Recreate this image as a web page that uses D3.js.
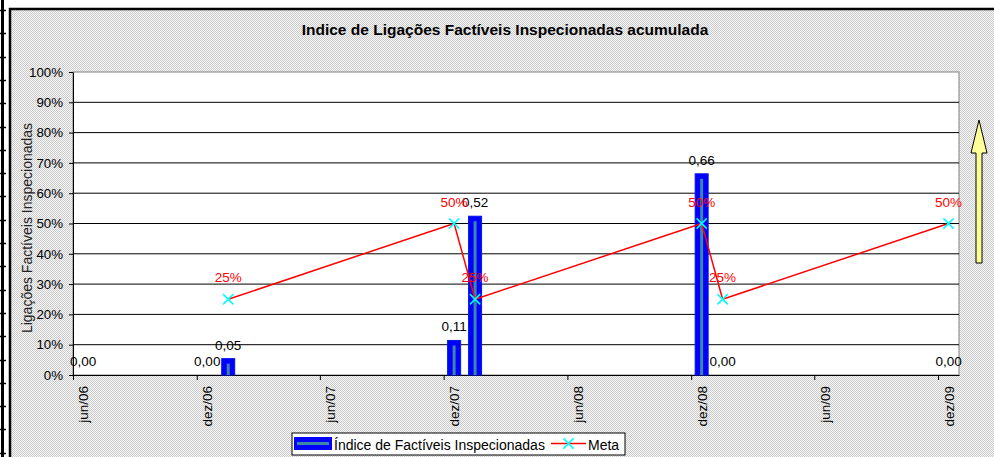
<!DOCTYPE html>
<html>
<head>
<meta charset="utf-8">
<script src="https://cdn.jsdelivr.net/npm/d3@7"></script>
<style>
  body { margin: 0; background: #fff; }
  text { font-family: "Liberation Sans", Arial, sans-serif; }
</style>
</head>
<body>
<script>
// chart data (months)
var months = ["2006-06", "2006-12", "2007-01", "2007-12", "2008-01", "2008-12", "2009-01", "2009-12"];
var indice = [0, 0, 0.054, 0.114, 0.524, 0.664, 0, 0];
var meta = [null, null, 0.25, 0.5, 0.25, 0.5, 0.25, 0.5];
var xTickLabels = ["jun/06", "dez/06", "jun/07", "dez/07", "jun/08", "dez/08", "jun/09", "dez/09"];
var yTicks = [0, 0.1, 0.2, 0.3, 0.4, 0.5, 0.6, 0.7, 0.8, 0.9, 1];

var w = 994, h = 457;
var plot = { left: 73, top: 72, right: 959, bottom: 375 };

var parseMonth = d3.timeParse("%Y-%m");

var svg = d3.select("body")
    .append("svg")
    .attr("width", w)
    .attr("height", h);

// dotted grey background pattern
var defs = svg.append("defs");
var pat = defs.append("pattern")
    .attr("id", "dots")
    .attr("width", 2)
    .attr("height", 2)
    .attr("patternUnits", "userSpaceOnUse");
pat.append("rect").attr("width", 2).attr("height", 2).attr("fill", "#f8f8f8");
pat.append("rect").attr("width", 1).attr("height", 1).attr("fill", "#cacaca");
pat.append("rect").attr("x", 1).attr("y", 1).attr("width", 1).attr("height", 1).attr("fill", "#cacaca");

// left edge (spreadsheet cells behind the chart)
svg.append("rect")
    .attr("x", 1).attr("y", 0)
    .attr("width", 3).attr("height", h)
    .attr("fill", "#000");
svg.selectAll(".cellmark")
    .data(d3.range(10, h, 23.3))
    .enter()
    .append("line")
    .attr("x1", 0).attr("x2", 6)
    .attr("y1", function(d){ return Math.round(d) + 0.5; })
    .attr("y2", function(d){ return Math.round(d) + 0.5; })
    .attr("stroke", "#000")
    .attr("stroke-width", 1.5);

// chart area
svg.append("rect")
    .attr("x", 10).attr("y", 9)
    .attr("width", w).attr("height", h)
    .attr("fill", "url(#dots)")
    .attr("stroke", "#000")
    .attr("stroke-width", 2.5);

// title
svg.append("text")
    .attr("x", 505).attr("y", 35)
    .attr("text-anchor", "middle")
    .style("font-size", "15.5px")
    .style("font-weight", "bold")
    .text("Indice de Ligações Factíveis Inspecionadas acumulada");

// scales
var x = d3.scaleTime()
    .domain([parseMonth("2006-06"), parseMonth("2010-01")])
    .range([plot.left, plot.right]);

var y = d3.scaleLinear()
    .domain([0, 1])
    .range([plot.bottom, plot.top]);

// centre of a month slot
function mid(d){
    return (x(d) + x(d3.timeMonth.offset(d, 1))) / 2;
}
function slot(d){
    return x(d3.timeMonth.offset(d, 1)) - x(d);
}

// plot area
svg.append("rect")
    .attr("x", plot.left).attr("y", plot.top)
    .attr("width", plot.right - plot.left)
    .attr("height", plot.bottom - plot.top)
    .attr("fill", "#fff")
    .attr("stroke", "#808080")
    .attr("stroke-width", 1);

// gridlines
svg.selectAll(".grid")
    .data(yTicks.slice(1, -1))
    .enter()
    .append("line")
    .attr("class", "grid")
    .attr("x1", plot.left).attr("x2", plot.right)
    .attr("y1", function(d){ return y(d); })
    .attr("y2", function(d){ return y(d); })
    .attr("stroke", "#000")
    .attr("stroke-width", 1);

// y axis
var yAxis = d3.axisLeft(y)
    .tickValues(yTicks)
    .tickSize(4)
    .tickSizeOuter(0)
    .tickPadding(6)
    .tickFormat(d3.format(".0%"));
var gy = svg.append("g")
    .attr("transform", "translate(" + plot.left + ",0)")
    .call(yAxis);
gy.selectAll("text").style("font-size", "13.3px").attr("fill", "#000").attr("font-family", null);
gy.selectAll("line, path").attr("stroke", "#000");

// x axis
var tickDates = xTickLabels.map(function(d, i){
    return d3.timeMonth.offset(parseMonth("2006-06"), i * 6);
});
var xAxis = d3.axisBottom(x)
    .tickValues(tickDates)
    .tickSize(5)
    .tickSizeOuter(0)
    .tickFormat(function(d, i){ return xTickLabels[i]; });
var gx = svg.append("g")
    .attr("transform", "translate(0," + plot.bottom + ")")
    .call(xAxis);
gx.selectAll("line, path").attr("stroke", "#000");
gx.selectAll("text")
    .style("font-size", "13.5px")
    .attr("fill", "#000")
    .attr("font-family", null)
    .attr("text-anchor", "end")
    .attr("y", 0)
    .attr("dy", "0.35em")
    .attr("transform", function(d){
        return "translate(" + (mid(d) - x(d)) + ",11) rotate(-90)";
    });

// y axis title
svg.append("text")
    .attr("transform", "translate(32,228) rotate(-90)")
    .attr("text-anchor", "middle")
    .style("font-size", "14px")
    .attr("fill", "#222")
    .text("Ligações Factíveis Inspecionadas");

var rows = months.map(function(m, i){
    return { date: parseMonth(m), indice: indice[i], meta: meta[i] };
});

// bars
var bars = svg.selectAll(".bar")
    .data(rows)
    .enter()
    .append("g")
    .attr("class", "bar");

bars.filter(function(d){ return d.indice > 0; })
    .append("rect")
    .attr("x", function(d){ return mid(d.date) - slot(d.date) * 0.31; })
    .attr("width", function(d){ return slot(d.date) * 0.62; })
    .attr("y", function(d){ return y(d.indice); })
    .attr("height", function(d){ return y(0) - y(d.indice); })
    .attr("fill", "#0000ff")
    .attr("stroke", "#0018e8")
    .attr("stroke-width", 1);

bars.filter(function(d){ return d.indice > 0; })
    .append("line")
    .attr("x1", function(d){ return mid(d.date); })
    .attr("x2", function(d){ return mid(d.date); })
    .attr("y1", function(d){ return y(d.indice) + 5; })
    .attr("y2", y(0))
    .attr("stroke", "#3c86a6")
    .attr("stroke-width", 3);

var fmt = d3.format(".2f");
bars.append("text")
    .attr("x", function(d){ return mid(d.date); })
    .attr("y", function(d){ return y(d.indice) - 9; })
    .attr("text-anchor", "middle")
    .style("font-size", "13.5px")
    .attr("fill", "#000")
    .text(function(d){ return fmt(d.indice).replace(".", ","); });

// meta line
var metaRows = rows.filter(function(d){ return d.meta !== null; });
var line = d3.line()
    .x(function(d){ return mid(d.date); })
    .y(function(d){ return y(d.meta); });

svg.append("path")
    .datum(metaRows)
    .attr("d", line)
    .attr("fill", "none")
    .attr("stroke", "#ff0000")
    .attr("stroke-width", 1.5);

var cross = d3.symbol().type(d3.symbolX).size(70);
svg.selectAll(".metaMark")
    .data(metaRows)
    .enter()
    .append("path")
    .attr("class", "metaMark")
    .attr("d", cross)
    .attr("transform", function(d){ return "translate(" + mid(d.date) + "," + y(d.meta) + ")"; })
    .attr("fill", "none")
    .attr("stroke", "#00ffff")
    .attr("stroke-width", 1.5);

svg.selectAll(".metaLabel")
    .data(metaRows)
    .enter()
    .append("text")
    .attr("class", "metaLabel")
    .attr("x", function(d){ return mid(d.date); })
    .attr("y", function(d){ return y(d.meta) - 17; })
    .attr("text-anchor", "middle")
    .style("font-size", "13.5px")
    .attr("fill", "#ff0000")
    .text(function(d){ return d3.format(".0%")(d.meta); });

// yellow arrow at the right
svg.append("path")
    .attr("d", "M979,120 L987,153 L982,153 L982,263 L976,263 L976,153 L971,153 Z")
    .attr("fill", "#ffff99")
    .attr("stroke", "#000")
    .attr("stroke-width", 1);

// legend
var lg = svg.append("g").attr("transform", "translate(292,433)");
lg.append("rect")
    .attr("width", 333).attr("height", 22)
    .attr("fill", "#fff")
    .attr("stroke", "#000")
    .attr("stroke-width", 1);
lg.append("rect")
    .attr("x", 2).attr("y", 4)
    .attr("width", 38).attr("height", 13)
    .attr("fill", "#0000ff");
lg.append("line")
    .attr("x1", 5).attr("x2", 37)
    .attr("y1", 10.5).attr("y2", 10.5)
    .attr("stroke", "#3c86a6")
    .attr("stroke-width", 3);
lg.append("text")
    .attr("x", 42).attr("y", 17)
    .style("font-size", "14px")
    .text("Índice de Factíveis Inspecionadas");
lg.append("line")
    .attr("x1", 259).attr("x2", 294)
    .attr("y1", 10.5).attr("y2", 10.5)
    .attr("stroke", "#ff0000")
    .attr("stroke-width", 1.5);
lg.append("path")
    .attr("d", cross)
    .attr("transform", "translate(276.5,10.5)")
    .attr("fill", "none")
    .attr("stroke", "#00ffff")
    .attr("stroke-width", 1.5);
lg.append("text")
    .attr("x", 296).attr("y", 17)
    .style("font-size", "14px")
    .text("Meta");
</script>
</body>
</html>
